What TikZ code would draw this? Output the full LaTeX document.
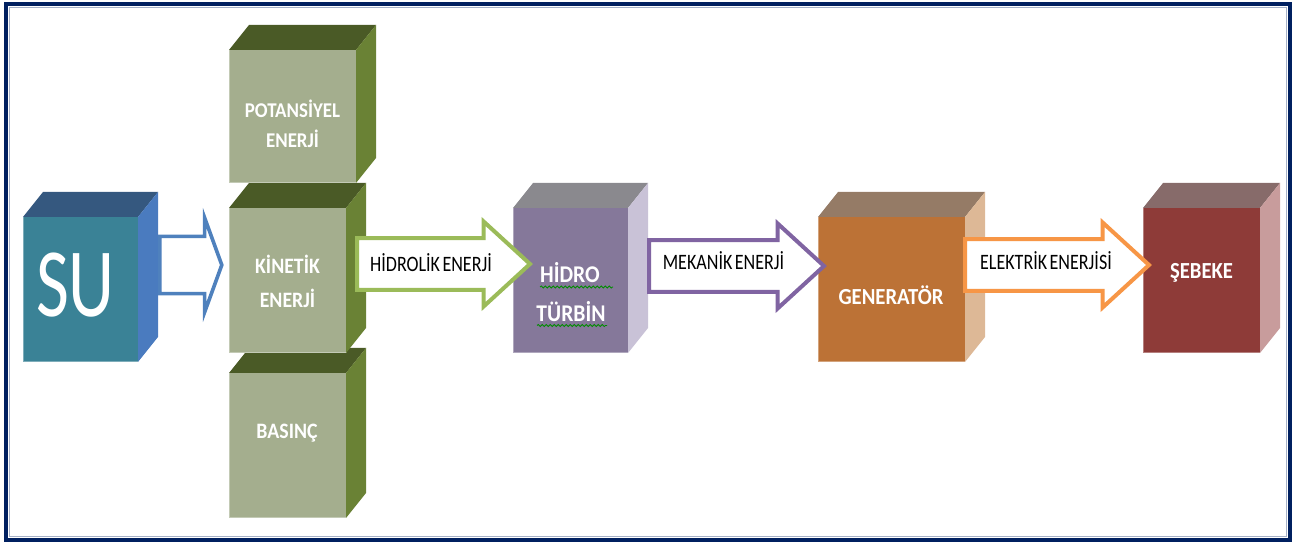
\documentclass[tikz,border=0pt]{standalone}
\usepackage{fontspec}
\setmainfont{Carlito}
\newfontfamily\boxfont[FakeStretch=0.9]{Carlito}
\newfontfamily\arrowfont[FakeStretch=0.82,WordSpace=0.6]{Carlito}
\newfontfamily\sufont[FakeStretch=0.73]{Carlito}
\usepackage{tikz}
\usetikzlibrary{shapes.arrows,decorations.pathmorphing,positioning}
\usepackage{xcolor}

\definecolor{frameblue}{HTML}{002060}
\definecolor{suFront}{HTML}{3A8296}
\definecolor{suTop}{HTML}{35587F}
\definecolor{suSide}{HTML}{4A7BBF}
\definecolor{enFront}{HTML}{A4AE8E}
\definecolor{enTop}{HTML}{4A5A26}
\definecolor{enSide}{HTML}{6A8235}
\definecolor{tbFront}{HTML}{85789A}
\definecolor{tbTop}{HTML}{8A898E}
\definecolor{tbSide}{HTML}{C9C2D7}
\definecolor{gnFront}{HTML}{BC7236}
\definecolor{gnTop}{HTML}{957B66}
\definecolor{gnSide}{HTML}{DDB896}
\definecolor{sbFront}{HTML}{8E3B38}
\definecolor{sbTop}{HTML}{876B6A}
\definecolor{sbSide}{HTML}{C89C9C}
\definecolor{arBlue}{HTML}{4F81BD}
\definecolor{arGreen}{HTML}{9BBB59}
\definecolor{arPurple}{HTML}{8064A2}
\definecolor{arOrange}{HTML}{F79646}

\begin{document}
\begin{tikzpicture}[x=0.5pt, y=-0.5pt,
    front/.style={rectangle, draw=white, draw opacity=0.35, line width=0.5pt,
        inner sep=0pt, outer sep=0pt},
    boxlabel/.style={anchor=base, text=white, inner sep=0pt,
        font=\boxfont\bfseries\fontsize{11}{13}\selectfont},
    arrowlabel/.style={anchor=base, text=black, inner sep=0pt,
        font=\arrowfont\fontsize{11}{13}\selectfont},
    flow/.style={single arrow, draw, fill=white, line width=2pt, anchor=tail,
        single arrow tip angle=85, inner sep=0pt, inner ysep=10pt,
        minimum width=42.5pt, text height=0pt, text depth=0pt},
    spell/.style={decorate, decoration={snake, amplitude=0.5pt, segment length=2pt},
        green!55!black, line width=0.4pt}]
    \useasboundingbox (0,0) rectangle (1295,544);

    % Frame
    \draw[frameblue, line width=2pt] (6,4) rectangle (1290,540);
    \draw[frameblue!35, line width=0.5pt] (9.5,7.5) rectangle (1286.5,536.5);

    % SU
    \node[front, fill=suFront, minimum width=57.5pt, minimum height=72.5pt] (su) at (80.5,289.5) {};
    \fill[suTop] (su.north west) -- ++(20,-25) -- ([shift={(20,-25)}]su.north east) -- (su.north east) -- cycle;
    \fill[suSide] (su.north east) -- ++(20,-25) -- ([shift={(20,-25)}]su.south east) -- (su.south east) -- cycle;

    % Basinc
    \node[front, fill=enFront, minimum width=58.5pt, minimum height=72.5pt] (bas) at (287.5,445.5) {};
    \fill[enTop] (bas.north west) -- ++(20,-25) -- ([shift={(20,-25)}]bas.north east) -- (bas.north east) -- cycle;
    \fill[enSide] (bas.north east) -- ++(20,-25) -- ([shift={(20,-25)}]bas.south east) -- (bas.south east) -- cycle;

    % Kinetik enerji
    \node[front, fill=enFront, minimum width=58.5pt, minimum height=72.5pt] (kin) at (287.5,280.5) {};
    \fill[enTop] (kin.north west) -- ++(20,-25) -- ([shift={(20,-25)}]kin.north east) -- (kin.north east) -- cycle;
    \fill[enSide] (kin.north east) -- ++(20,-25) -- ([shift={(20,-25)}]kin.south east) -- (kin.south east) -- cycle;

    % Potansiyel enerji
    \node[front, fill=enFront, minimum width=63.5pt, minimum height=66.5pt] (pot) at (292.5,116.5) {};
    \fill[enTop] (pot.north west) -- ++(20,-25) -- ([shift={(20,-25)}]pot.north east) -- (pot.north east) -- cycle;
    \fill[enSide] (pot.north east) -- ++(20,-25) -- ([shift={(20,-25)}]pot.south east) -- (pot.south east) -- cycle;

    % Hidro turbin
    \node[front, fill=tbFront, minimum width=57.5pt, minimum height=72.5pt] (tur) at (570.5,280.5) {};
    \fill[tbTop] (tur.north west) -- ++(20,-25) -- ([shift={(20,-25)}]tur.north east) -- (tur.north east) -- cycle;
    \fill[tbSide] (tur.north east) -- ++(20,-25) -- ([shift={(20,-25)}]tur.south east) -- (tur.south east) -- cycle;

    % Generator
    \node[front, fill=gnFront, minimum width=73.5pt, minimum height=72.5pt] (gen) at (891.5,289.5) {};
    \fill[gnTop] (gen.north west) -- ++(20,-25) -- ([shift={(20,-25)}]gen.north east) -- (gen.north east) -- cycle;
    \fill[gnSide] (gen.north east) -- ++(20,-25) -- ([shift={(20,-25)}]gen.south east) -- (gen.south east) -- cycle;

    % Sebeke
    \node[front, fill=sbFront, minimum width=58.5pt, minimum height=72.5pt] (seb) at (1201.5,280.5) {};
    \fill[sbTop] (seb.north west) -- ++(20,-25) -- ([shift={(20,-25)}]seb.north east) -- (seb.north east) -- cycle;
    \fill[sbSide] (seb.north east) -- ++(20,-25) -- ([shift={(20,-25)}]seb.south east) -- (seb.south east) -- cycle;

    % Arrows
    \node[flow, draw=arBlue, line width=1.8pt, single arrow tip angle=140, inner ysep=10.25pt,
        minimum width=47pt, minimum height=31pt] (a0) at (158,265) {};
    \node[flow, draw=arGreen, minimum height=86.5pt] (a1) at (355,264) {};
    \node[flow, draw=arPurple, minimum height=87.5pt] (a2) at (647,266) {};
    \node[flow, draw=arOrange, minimum height=92pt] (a3) at (963,265) {};

    % Labels
    \node[font=\sufont\fontsize{49}{52}\selectfont, text=white, anchor=base, inner sep=0pt] (sutext) at (75.5,317) {SU};
    \node[boxlabel, font=\boxfont\bfseries\fontsize{10.5}{13}\selectfont] (pot1) at (292.5,118) {POTANSİYEL};
    \node[boxlabel, font=\boxfont\bfseries\fontsize{10.5}{13}\selectfont] (pot2) at (292.5,148) {ENERJİ};
    \node[boxlabel] (kin1) at (287.5,274) {KİNETİK};
    \node[boxlabel] (kin2) at (287.5,308) {ENERJİ};
    \node[boxlabel] (bas1) at (287,439) {BASINÇ};
    \node[boxlabel, font=\boxfont\bfseries\fontsize{12}{13}\selectfont] (tur1) at (570,283) {HİDRO};
    \node[boxlabel, font=\boxfont\bfseries\fontsize{12}{13}\selectfont] (tur2) at (571,322) {TÜRBİN};
    \node[boxlabel, font=\boxfont\bfseries\fontsize{11.5}{13}\selectfont] (gen1) at (891,305) {GENERATÖR};
    \node[boxlabel, font=\boxfont\bfseries\fontsize{11.5}{13}\selectfont] (seb1) at (1201.5,279) {ŞEBEKE};
    \node[arrowlabel] (l1) at (431,272) {HİDROLİK ENERJİ};
    \node[arrowlabel] (l2) at (723.5,270) {MEKANİK ENERJİ};
    \node[arrowlabel] (l3) at (1046,270) {ELEKTRİK ENERJİSİ};

    % Spell-check marks
    \draw[spell] (540,287) -- (613,287);
    \draw[spell] (537,325.5) -- (607,325.5);
\end{tikzpicture}
\end{document}
